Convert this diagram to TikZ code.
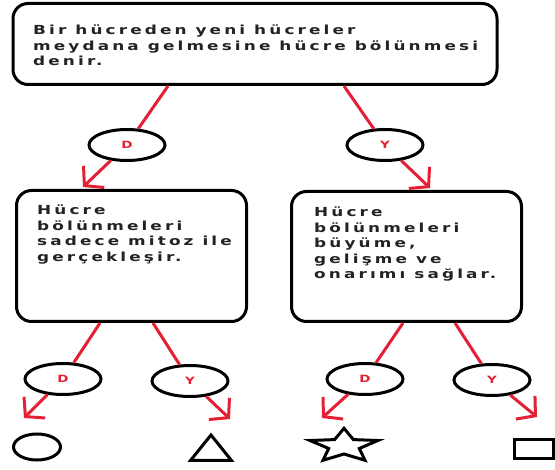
\documentclass[tikz,border=0pt]{standalone}
\usepackage{fontspec}
\newfontfamily\wfont[FakeStretch=1.35,LetterSpace=25]{DejaVu Sans Bold}
\usetikzlibrary{arrows.meta,shapes.geometric}
\definecolor{ared}{RGB}{228,32,52}
\definecolor{ink}{RGB}{35,35,35}
\tikzset{
  box/.style={draw=black, line width=3pt, rounded corners=15pt, inner sep=0pt},
  txt/.style={anchor=north west, align=left, inner sep=0pt, text=ink,
    font=\wfont\fontsize{12.5}{15.5}\selectfont},
  oval/.style={draw=black, ellipse, line width=3pt, minimum width=76pt, minimum height=31pt,
    inner sep=0pt, text=ared, font=\wfont\fontsize{10}{10}\selectfont},
  link/.style={draw=ared, line width=3pt},
  arr/.style={link, -{Straight Barb[length=13pt,width=30pt,line width=3pt]}},
  shp/.style={draw=black, line width=3pt, line join=miter}
}
\begin{document}
\begin{tikzpicture}[x=1pt,y=-1pt]
\useasboundingbox (0,0) rectangle (555,470);
% boxes
\node[box, minimum width=484pt, minimum height=81pt] (top) at (255,44) {};
\node[txt] (ttop) at (33,25) {Bir hücreden yeni hücreler\\meydana gelmesine hücre bölünmesi\\denir.};
\node[box, minimum width=230pt, minimum height=131pt] (lbox) at (131.5,256) {};
\node[txt] (tl) at (37,205) {Hücre\\bölünmeleri\\sadece mitoz ile\\gerçekleşir.};
\node[box, minimum width=230pt, minimum height=130pt] (rbox) at (406.5,256.5) {};
\node[txt] (tr) at (314,207) {Hücre\\bölünmeleri\\büyüme,\\gelişme ve\\onarımı sağlar.};
% ovals
\node[oval] (e1) at (127,145) {D};
\node[oval] (e2) at (385,145) {Y};
\node[oval] (e3) at (63,379) {D};
\node[oval] (e4) at (190,381) {Y};
\node[oval] (e5) at (365,379) {D};
\node[oval] (e6) at (492,380) {Y};
% start points and tips
\coordinate (s1) at (168,86);
\coordinate (s2) at (344,86);
\coordinate (s3) at (100,323);
\coordinate (s4) at (153,323);
\coordinate (s5) at (403,323);
\coordinate (s6) at (455,323);
\coordinate (p1) at (83,187);
\coordinate (p2) at (430,188);
\coordinate (p3) at (24,418);
\coordinate (p4) at (230,419);
\coordinate (p5) at (322,418);
\coordinate (p6) at (537,417);
\draw[link] (s1) -- (e1); \draw[arr] (e1) -- (p1);
\draw[link] (s2) -- (e2); \draw[arr] (e2) -- (p2);
\draw[link] (s3) -- (e3); \draw[arr] (e3) -- (p3);
\draw[link] (s4) -- (e4); \draw[arr] (e4) -- (p4);
\draw[link] (s5) -- (e5); \draw[arr] (e5) -- (p5);
\draw[link] (s6) -- (e6); \draw[arr] (e6) -- (p6);
% end shapes
\draw[shp] (37,447) ellipse [x radius=23.5pt, y radius=13pt];
\draw[shp] (211,435) -- (231.5,460.5) -- (190.5,460.5) -- cycle;
\draw[shp] (344,428.3) -- (353.4,439.6) -- (377.9,440.5) -- (359.3,448.5) -- (365.0,460.3)
  -- (344,454.0) -- (323.0,460.3) -- (328.7,448.5) -- (310.0,440.5) -- (334.6,439.6) -- cycle;
\draw[shp] (514.5,439.5) rectangle (553.5,458.5);
\end{tikzpicture}
\end{document}
